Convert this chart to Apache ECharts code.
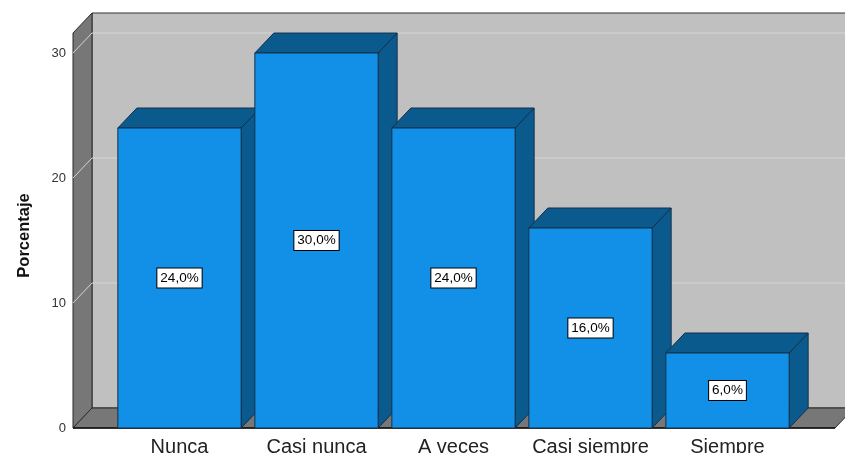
<!DOCTYPE html>
<html>
<head>
<meta charset="utf-8">
<script src="https://cdn.jsdelivr.net/npm/echarts@6/dist/echarts.min.js"></script>
<style>
  html, body { margin: 0; padding: 0; background: #fff; }
  #chart { width: 845px; height: 453px; }
</style>
</head>
<body>
<div id="chart"></div>
<script>
  // categorias y porcentajes
  var categories = ['Nunca', 'Casi nunca', 'A veces', 'Casi siempre', 'Siempre']
  var percents = [24, 30, 24, 16, 6]
  var yTicks = [0, 10, 20, 30]

  // perspectiva 3D (pixeles)
  var DX = 19, DY = -20
  var PAD_L = 38, PAD_R = 39
  var WALL_TOP = 31.6

  var chart = echarts.init(document.getElementById('chart'))

  function renderWalls(params, api) {
    var cs = params.coordSys
    var L = cs.x - PAD_L
    var R = cs.x + cs.width + PAD_R
    var y0 = api.coord([0, 0])[1]
    var yT = api.coord([0, WALL_TOP])[1]
    var children = []
    // pared del fondo
    children.push({
      type: 'rect',
      shape: { x: L + DX, y: yT + DY, width: R - L, height: y0 - yT },
      style: { fill: '#c0c0c0', stroke: '#333', lineWidth: 1 }
    })
    // pared izquierda
    children.push({
      type: 'polygon',
      shape: { points: [[L, yT], [L + DX, yT + DY], [L + DX, y0 + DY], [L, y0]] },
      style: { fill: '#777777', stroke: '#2a2a2a', lineWidth: 1 }
    })
    // suelo
    children.push({
      type: 'polygon',
      shape: { points: [[L, y0], [L + DX, y0 + DY], [R + DX, y0 + DY], [R, y0]] },
      style: { fill: '#777777', stroke: '#2a2a2a', lineWidth: 1 }
    })
    // lineas de cuadricula
    yTicks.forEach(function (t) {
      if (t === 0) return
      var y = api.coord([0, t])[1]
      children.push({
        type: 'polyline',
        shape: { points: [[L, y], [L + DX, y + DY], [R + DX, y + DY]] },
        style: { stroke: '#d6d6d6', lineWidth: 1, fill: null }
      })
    })
    // eje inferior
    children.push({
      type: 'line',
      shape: { x1: L, y1: y0, x2: R, y2: y0 },
      style: { stroke: '#111', lineWidth: 1.5 }
    })
    return { type: 'group', children: children }
  }

  function renderBar(params, api) {
    var idx = api.value(0)
    var val = api.value(1)
    var top = api.coord([idx, val])
    var bottom = api.coord([idx, 0])
    var w = api.size([1, 0])[0] * 0.9
    var xl = top[0] - w / 2
    var xr = top[0] + w / 2
    var yt = top[1]
    var yb = bottom[1]
    var edge = '#14304a'
    return {
      type: 'group',
      children: [
        {
          type: 'polygon',
          shape: { points: [[xr, yt], [xr + DX, yt + DY], [xr + DX, yb + DY], [xr, yb]] },
          style: { fill: '#0b5a8e', stroke: edge, lineWidth: 1 }
        },
        {
          type: 'polygon',
          shape: { points: [[xl, yt], [xl + DX, yt + DY], [xr + DX, yt + DY], [xr, yt]] },
          style: { fill: '#0b5a8e', stroke: edge, lineWidth: 1 }
        },
        {
          type: 'rect',
          shape: { x: xl, y: yt, width: w, height: yb - yt },
          style: { fill: '#1290e8', stroke: edge, lineWidth: 1 }
        },
        {
          type: 'text',
          style: {
            x: top[0], y: (yt + yb) / 2,
            text: val.toFixed(1).replace('.', ',') + '%',
            align: 'center', verticalAlign: 'middle',
            fontFamily: 'Liberation Sans, Arial, sans-serif',
            fontSize: 13.5, fill: '#000',
            backgroundColor: '#fff', borderColor: '#000', borderWidth: 1,
            padding: [3, 3, 2, 3]
          }
        }
      ]
    }
  }

  chart.setOption({
    animation: false,
    grid: { left: 111, right: 49, top: 53, bottom: 25, outerBoundsMode: 'none' },
    xAxis: {
      type: 'category',
      data: categories,
      axisLine: { show: false },
      axisTick: { show: false },
      axisLabel: {
        interval: 0,
        margin: 9,
        fontSize: 20,
        color: '#222',
        fontFamily: 'Liberation Sans, Arial, sans-serif'
      }
    },
    yAxis: {
      type: 'value',
      min: 0,
      max: 30,
      interval: 10,
      name: 'Porcentaje',
      nameLocation: 'middle',
      nameGap: 78,
      nameRotate: 90,
      nameTextStyle: {
        fontSize: 16.5,
        fontWeight: 'bold',
        color: '#111',
        padding: [0, 0, 0, 10],
        fontFamily: 'Liberation Sans Narrow, Liberation Sans, Arial, sans-serif'
      },
      axisLine: { show: false },
      axisTick: { show: false },
      splitLine: { show: false },
      axisLabel: {
        margin: 45,
        fontSize: 13,
        color: '#333',
        fontFamily: 'Liberation Sans, Arial, sans-serif'
      }
    },
    series: [
      {
        type: 'custom',
        z: 1,
        data: [[0, 0]],
        renderItem: renderWalls,
        silent: true
      },
      {
        type: 'custom',
        z: 2,
        data: percents.map(function (v, i) { return [i, v] }),
        renderItem: renderBar
      }
    ]
  })
</script>
</body>
</html>
